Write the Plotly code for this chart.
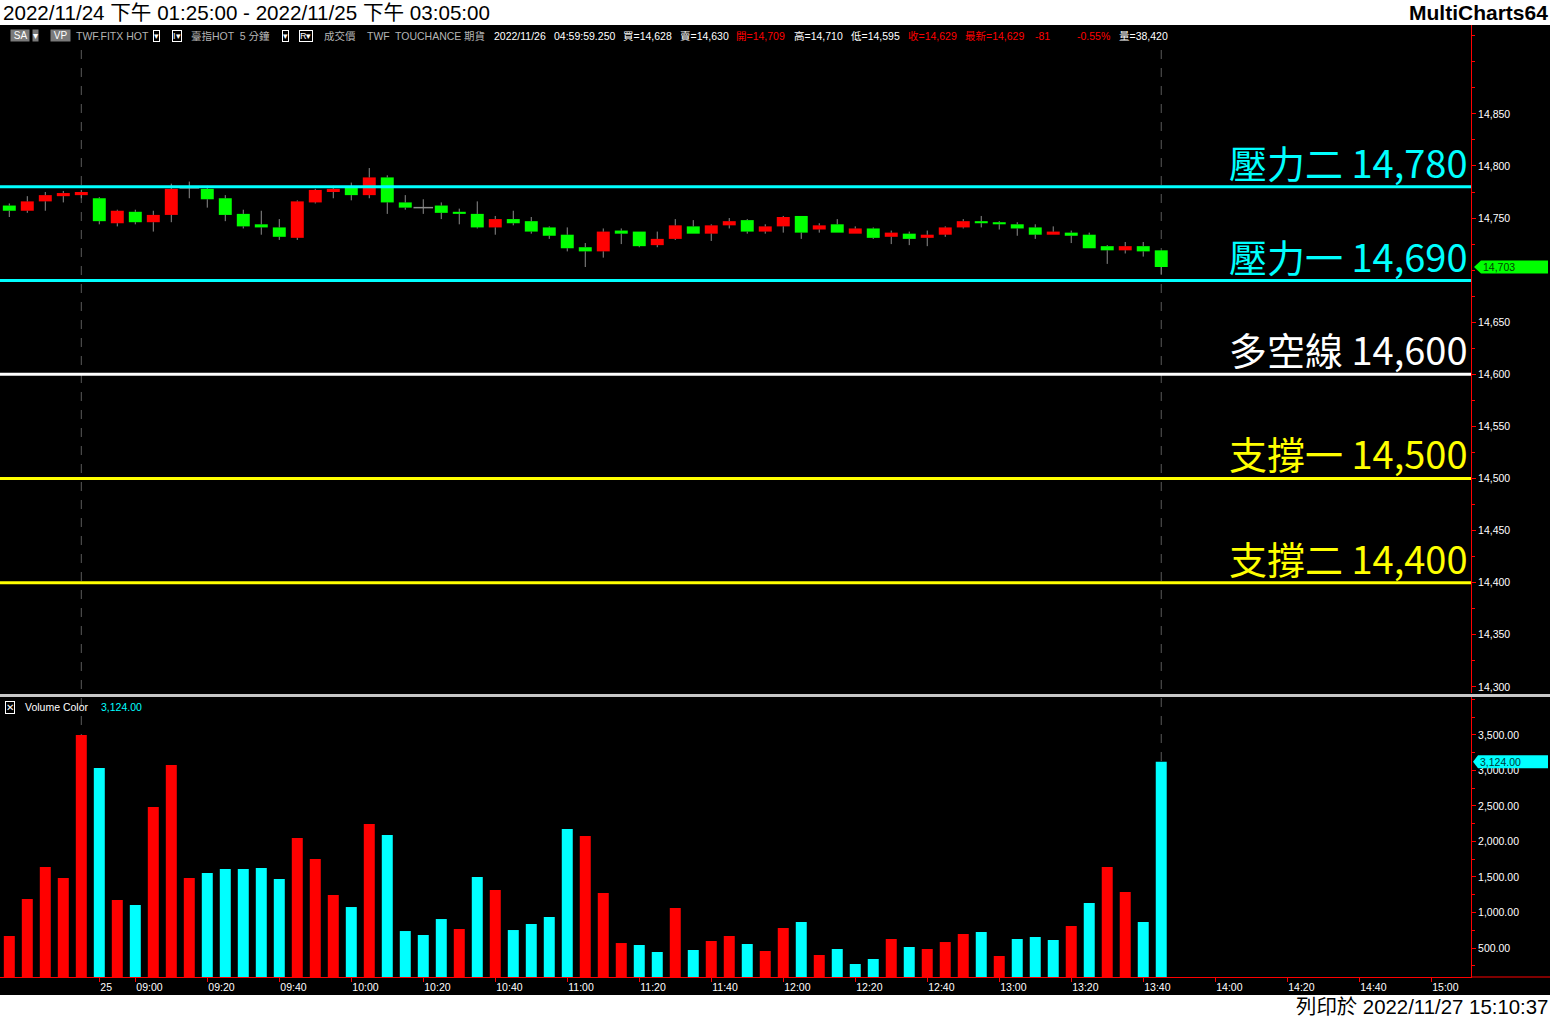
import plotly.graph_objects as go

# ---------------- data ----------------
opens = [14762, 14757, 14766, 14771, 14772, 14769, 14745, 14756, 14746, 14753,
         14779, 14778, 14769, 14754, 14744, 14741, 14731, 14765, 14775, 14779,
         14772, 14789, 14765, 14760, 14762, 14756, 14754, 14741, 14749, 14747,
         14741, 14734, 14722, 14718, 14738, 14737, 14724, 14730, 14742, 14735,
         14743, 14748, 14737, 14742, 14752, 14739, 14744, 14735, 14740, 14732,
         14735, 14731, 14734, 14741, 14747, 14746, 14744, 14741, 14734, 14736,
         14734, 14723, 14719, 14723, 14719]
highs = [14764, 14771, 14775, 14776, 14777, 14770, 14758, 14758, 14757, 14783,
         14785, 14781, 14772, 14758, 14757, 14749, 14767, 14778, 14781, 14784,
         14798, 14791, 14772, 14768, 14765, 14759, 14766, 14752, 14757, 14751,
         14742, 14741, 14726, 14740, 14740, 14737, 14737, 14749, 14748, 14744,
         14750, 14749, 14744, 14752, 14752, 14745, 14749, 14742, 14741, 14738,
         14737, 14738, 14742, 14749, 14752, 14747, 14746, 14744, 14742, 14738,
         14736, 14724, 14727, 14727, 14719]
lows = [14751, 14755, 14757, 14765, 14769, 14744, 14742, 14744, 14737, 14746,
        14769, 14760, 14747, 14740, 14734, 14729, 14729, 14764, 14769, 14767,
        14769, 14754, 14758, 14754, 14749, 14744, 14740, 14734, 14743, 14735,
        14730, 14718, 14703, 14712, 14725, 14722, 14722, 14729, 14735, 14728,
        14740, 14735, 14735, 14736, 14730, 14736, 14736, 14735, 14730, 14725,
        14724, 14723, 14732, 14740, 14741, 14739, 14733, 14730, 14734, 14726,
        14721, 14706, 14716, 14713, 14696]
closes = [14757, 14766, 14772, 14774, 14775, 14747, 14757, 14746, 14753, 14778,
          14779, 14768, 14753, 14742, 14741, 14732, 14766, 14777, 14778, 14772,
          14789, 14765, 14760, 14760, 14755, 14754, 14741, 14749, 14745, 14737,
          14733, 14721, 14718, 14737, 14735, 14723, 14730, 14743, 14735, 14743,
          14747, 14737, 14742, 14751, 14736, 14743, 14736, 14740, 14731, 14736,
          14730, 14734, 14741, 14747, 14745, 14744, 14740, 14734, 14737, 14733,
          14721, 14719, 14723, 14718, 14703]
volumes = [669, 1190, 1641, 1486, 3500, 3035, 1176, 1106, 2486, 3077,
           1486, 1556, 1613, 1613, 1627, 1472, 2049, 1754, 1246, 1077,
           2246, 2092, 739, 683, 908, 768, 1500, 1317, 753, 838,
           937, 2176, 2077, 1275, 570, 542, 444, 1063, 472, 599,
           669, 556, 458, 782, 866, 401, 486, 275, 345, 627,
           514, 486, 584, 697, 725, 387, 627, 655, 613, 810,
           1134, 1641, 1289, 866, 3124]
# R = red (up) volume, C = cyan (down) volume
volume_side = list("RRRRRCRCRR" "RCCCCCRRRC" "RCCCCRCRCC" "CCRRRCCRCR"
                   "RCRRCRCCCR" "CRRRCRCCCR" "CRRCC")
prev_session_bars = 5  # bars of 2022/11/24 before the break

x_tick_bars = [5, 7, 11, 15, 19, 23, 27, 31, 35, 39, 43, 47, 51, 55, 59, 63, 67, 71, 75, 79]
x_tick_labels = ["25", "09:00", "09:20", "09:40", "10:00", "10:20", "10:40", "11:00",
                 "11:20", "11:40", "12:00", "12:20", "12:40", "13:00", "13:20", "13:40",
                 "14:00", "14:20", "14:40", "15:00"]
price_ticks = [14300, 14350, 14400, 14450, 14500, 14550, 14600, 14650, 14750, 14800, 14850]
volume_ticks = [500, 1000, 1500, 2000, 2500, 3000, 3500]

level_names = ["壓力二", "壓力一", "多空線", "支撐一", "支撐二"]
level_values = [14780, 14690, 14600, 14500, 14400]

# ---------------- style ----------------
LEVEL_COLORS = ["#00FFFF", "#00FFFF", "#FFFFFF", "#FFFF00", "#FFFF00"]
UP, DOWN, DOJI, WICK = "#FF0000", "#00FF00", "#8C8C8C", "#8C8C8C"
VOL_COL = {"R": "#FF0000", "C": "#00FFFF"}
FONT = "Liberation Sans, Arial, Noto Sans CJK TC, sans-serif"
CJK = "Noto Sans CJK TC, Liberation Sans, sans-serif"

FIG_W, FIG_H = 1550, 1018
M_L, M_R, M_T, M_B = 0, 79, 25, 41
PW = FIG_W - M_L - M_R
PH = FIG_H - M_T - M_B


def fx(px):
    return (px - M_L) / PW


def fy(py):
    return (FIG_H - M_B - py) / PH


n = len(opens)
xs = list(range(n))

# wicks (drawn outside the bodies)
wx, wy = [], []
for i in range(n):
    top = max(opens[i], closes[i])
    bot = min(opens[i], closes[i])
    wx += [i, i, None, i, i, None]
    wy += [top, highs[i], None, bot, lows[i], None]

body_x, body_base, body_h, body_c = [], [], [], []
doji_x, doji_y = [], []
for i in range(n):
    if closes[i] == opens[i]:
        doji_x.append(i)
        doji_y.append(opens[i])
    else:
        body_x.append(i)
        body_base.append(min(opens[i], closes[i]))
        body_h.append(abs(closes[i] - opens[i]))
        body_c.append(UP if closes[i] > opens[i] else DOWN)

fig = go.Figure()
fig.add_trace(go.Scatter(x=wx, y=wy, mode="lines", line=dict(color=WICK, width=1),
                         xaxis="x", yaxis="y", hoverinfo="skip"))
fig.add_trace(go.Bar(x=body_x, y=body_h, base=body_base, width=0.72,
                     marker=dict(color=body_c, line=dict(width=0)),
                     xaxis="x", yaxis="y", hoverinfo="skip"))
fig.add_trace(go.Scatter(x=doji_x, y=doji_y, mode="markers",
                         marker=dict(symbol="line-ew", size=14, line=dict(color=DOJI, width=1.5)),
                         xaxis="x", yaxis="y", hoverinfo="skip"))
fig.add_trace(go.Bar(x=xs, y=volumes, width=0.61,
                     marker=dict(color=[VOL_COL[s] for s in volume_side], line=dict(width=0)),
                     xaxis="x", yaxis="y2", hoverinfo="skip"))

axis_font = dict(color="#FFFFFF", size=10.5, family=FONT)
fig.update_layout(
    width=FIG_W, height=FIG_H,
    margin=dict(l=M_L, r=M_R, t=M_T, b=M_B, pad=0),
    paper_bgcolor="#000000", plot_bgcolor="#000000",
    showlegend=False, barmode="overlay", hovermode=False,
    xaxis=dict(domain=[0, 1], anchor="y2", range=[-0.517, 81.21],
               tickmode="array", tickvals=x_tick_bars, ticktext=x_tick_labels,
               ticks="outside", ticklen=4, tickcolor="#FF0000", tickwidth=1,
               showline=True, linecolor="#FF0000", linewidth=1,
               showgrid=False, zeroline=False, tickfont=axis_font,
               ticklabelposition="outside right", fixedrange=True),
    yaxis=dict(domain=[fy(693), 1], anchor="x", side="right",
               range=[14294.1, 14935.3],
               tickmode="array", tickvals=price_ticks,
               ticktext=[f"{v:,}" for v in price_ticks],
               ticks="outside", ticklen=4, tickcolor="#FF0000",
               minor=dict(tickmode="linear", tick0=14300, dtick=25, ticks="outside",
                          ticklen=3, tickcolor="#FF0000"),
               showline=True, linecolor="#FF0000", linewidth=1,
               showgrid=False, zeroline=False, tickfont=axis_font, fixedrange=True),
    yaxis2=dict(domain=[0, fy(697)], anchor="x", side="right",
                range=[91.5, 4035],
                tickmode="array", tickvals=volume_ticks,
                ticktext=[f"{v:,.2f}" for v in volume_ticks],
                ticks="outside", ticklen=4, tickcolor="#FF0000",
                minor=dict(tickmode="linear", tick0=0, dtick=250, ticks="outside",
                           ticklen=3, tickcolor="#FF0000"),
                showline=True, linecolor="#FF0000", linewidth=1,
                showgrid=False, zeroline=False, tickfont=axis_font, fixedrange=True),
)

shapes = []
# white strips top and bottom
shapes.append(dict(type="rect", xref="paper", yref="paper", x0=fx(0), x1=fx(FIG_W),
                   y0=fy(25), y1=fy(0), fillcolor="#FFFFFF", line=dict(width=0), layer="above"))
shapes.append(dict(type="rect", xref="paper", yref="paper", x0=fx(0), x1=fx(FIG_W),
                   y0=fy(FIG_H), y1=fy(995), fillcolor="#FFFFFF", line=dict(width=0), layer="above"))
# session break and last bar dashed markers
for bx in [prev_session_bars - 1, n - 1]:
    shapes.append(dict(type="line", xref="x", yref="paper", x0=bx, x1=bx,
                       y0=fy(977), y1=fy(45), line=dict(color="#5A5A5A", width=1, dash="dash"),
                       layer="below"))
# price levels
for v, c in zip(level_values, LEVEL_COLORS):
    shapes.append(dict(type="line", xref="paper", yref="y", x0=0, x1=1, y0=v, y1=v,
                       line=dict(color=c, width=3), layer="above"))
# pane separator
shapes.append(dict(type="line", xref="paper", yref="paper", x0=fx(0), x1=fx(FIG_W),
                   y0=fy(695.5), y1=fy(695.5), line=dict(color="#C8C8C8", width=3), layer="above"))
# x axis line continues under the price scale
shapes.append(dict(type="line", xref="paper", yref="paper", x0=1, x1=fx(FIG_W),
                   y0=0, y1=0, line=dict(color="#FF0000", width=1), layer="above"))
# last price marker
shapes.append(dict(type="path", xref="paper", yref="y", xsizemode="pixel", ysizemode="pixel",
                   xanchor=1, yanchor=closes[-1],
                   path="M3,0 L10,6.5 L77,6.5 L77,-6.5 L10,-6.5 Z",
                   fillcolor="#00FF00", line=dict(width=0), layer="above"))
# last volume marker
shapes.append(dict(type="path", xref="paper", yref="y2", xsizemode="pixel", ysizemode="pixel",
                   xanchor=1, yanchor=volumes[-1],
                   path="M2,0 L7,6.5 L77,6.5 L77,-6.5 L7,-6.5 Z",
                   fillcolor="#00FFFF", line=dict(width=0), layer="above"))
fig.update_layout(shapes=shapes)

ann = []


def txt(text, x, y, color="#FFFFFF", size=10.5, anchor="left", family=FONT,
        bg=None, border=None, yref="paper", yshift=0):
    d = dict(text=text, x=fx(x), y=(fy(y) if yref == "paper" else y), xref="paper", yref=yref,
             xanchor=anchor, yanchor="middle", showarrow=False, yshift=yshift,
             font=dict(color=color, size=size, family=family), borderpad=0)
    if bg:
        d["bgcolor"] = bg
    if border:
        d["bordercolor"] = border
        d["borderwidth"] = 1
    ann.append(d)


# title strip
txt("2022/11/24 下午 01:25:00 - 2022/11/25 下午 03:05:00", 2, 12.5, color="#000000", size=20.6)
txt("<b>MultiCharts64</b>", 1549, 12.5, color="#000000", size=21, anchor="right")
txt("列印於 2022/11/27 15:10:37", 1549, 1007, color="#000000", size=20.4, anchor="right")

# header row
txt(" SA ", 10, 36, size=10, bg="#7A7A7A")
txt("▾", 32, 36, size=10, bg="#7A7A7A")
txt(" VP ", 50, 36, size=10, bg="#7A7A7A")
txt("TWF.FITX HOT", 75, 36, color="#B4B4B4", size=10.5)
txt("▾", 153, 36, size=9, border="#FFFFFF")
txt("I▾", 172, 36, size=9, border="#FFFFFF")
txt("臺指HOT  5 分鐘", 190, 36, color="#B4B4B4", size=10.5)
txt("▾", 282, 36, size=9, border="#FFFFFF")
txt("R▾", 299, 36, size=9, border="#FFFFFF")
for t, x in [("成交價", 323), ("TWF", 366), ("TOUCHANCE", 394), ("期貨", 463)]:
    txt(t, x, 36, color="#B4B4B4", size=10.5)
txt("2022/11/26", 493, 36, size=10.5)
txt("04:59:59.250", 553, 36, size=10.5)
header_vals = [("買=14,628", 622, "#FFFFFF"), ("賣=14,630", 679, "#FFFFFF"),
               ("開=14,709", 735, "#FF0000"), ("高=14,710", 793, "#FFFFFF"),
               ("低=14,595", 850, "#FFFFFF"), ("收=14,629", 907, "#FF0000"),
               ("最新=14,629", 964, "#FF0000"), ("-81", 1034, "#FF0000"),
               ("-0.55%", 1076, "#FF0000"), ("量=38,420", 1118, "#FFFFFF")]
for t, x, c in header_vals:
    txt(t, x, 36, color=c, size=10.5)

# volume pane header
txt("✕", 5, 707, size=10, border="#FFFFFF")
txt("Volume Color", 24, 707, size=10.5)
txt(f"{volumes[-1]:,.2f}", 100, 707, color="#00FFFF", size=10.5)

# level labels
for name, v, c in zip(level_names, level_values, LEVEL_COLORS):
    ann.append(dict(text=f"{name} {v:,}", x=fx(1469), y=v, xref="paper", yref="y",
                    xanchor="right", yanchor="bottom", showarrow=False, yshift=-3,
                    font=dict(color=c, size=38, family=CJK), borderpad=0))

# marker texts
ann.append(dict(text=f"{closes[-1]:,}", x=fx(1482), y=closes[-1], xref="paper", yref="y",
                xanchor="left", yanchor="middle", showarrow=False,
                font=dict(color="#004400", size=10.5, family=FONT), borderpad=0))
ann.append(dict(text=f"{volumes[-1]:,.2f}", x=fx(1479), y=volumes[-1], xref="paper", yref="y2",
                xanchor="left", yanchor="middle", showarrow=False,
                font=dict(color="#003838", size=10.5, family=FONT), borderpad=0))

fig.update_layout(annotations=ann)
fig.write_html("out.html", config={"displayModeBar": False},
               post_script="document.body.style.margin='0px';document.body.style.overflow='hidden';")
